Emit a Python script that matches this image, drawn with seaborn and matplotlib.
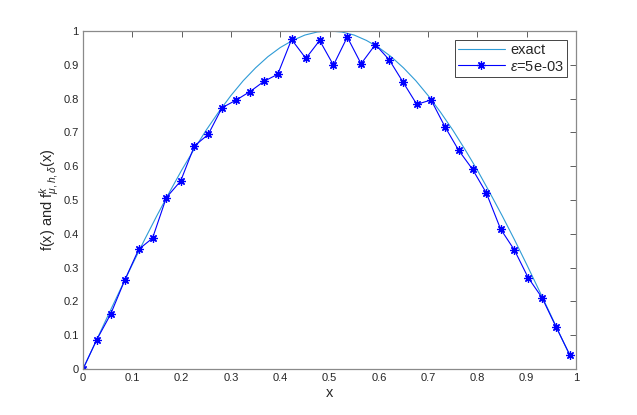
import numpy as np
import pandas as pd
import matplotlib
matplotlib.use("Agg")
import matplotlib.pyplot as plt
import seaborn as sns

# exact curve f(x), sampled
x_exact = [0.0, 0.025, 0.05, 0.075, 0.1, 0.125, 0.15, 0.175, 0.2, 0.225, 0.25,
           0.275, 0.3, 0.325, 0.35, 0.375, 0.4, 0.425, 0.45, 0.475, 0.5, 0.525,
           0.55, 0.575, 0.6, 0.625, 0.65, 0.675, 0.7, 0.725, 0.75, 0.775, 0.8,
           0.825, 0.85, 0.875, 0.9, 0.925, 0.95, 0.975, 0.988]
y_exact = [0.0, 0.078, 0.156, 0.233, 0.309, 0.383, 0.454, 0.522, 0.588, 0.649,
           0.707, 0.760, 0.809, 0.853, 0.891, 0.924, 0.951, 0.972, 0.988, 0.997,
           1.0, 0.997, 0.988, 0.972, 0.951, 0.924, 0.891, 0.853, 0.809, 0.760,
           0.707, 0.649, 0.588, 0.522, 0.454, 0.383, 0.309, 0.233, 0.156, 0.078,
           0.038]

# approximation, eps = 5e-03
x_approx = [0.0, 0.028, 0.056, 0.085, 0.113, 0.141, 0.169, 0.198, 0.226, 0.254,
            0.282, 0.311, 0.339, 0.367, 0.395, 0.423, 0.452, 0.480, 0.508, 0.536,
            0.564, 0.593, 0.621, 0.649, 0.677, 0.706, 0.734, 0.762, 0.790, 0.818,
            0.847, 0.875, 0.903, 0.931, 0.960, 0.988]
y_approx = [0.0, 0.087, 0.162, 0.264, 0.354, 0.387, 0.507, 0.556, 0.660, 0.694,
            0.773, 0.796, 0.821, 0.851, 0.872, 0.975, 0.919, 0.972, 0.899, 0.982,
            0.903, 0.960, 0.915, 0.849, 0.783, 0.796, 0.717, 0.647, 0.591, 0.521,
            0.414, 0.352, 0.270, 0.211, 0.123, 0.040]

df_exact = pd.DataFrame({"x": x_exact, "y": y_exact})
df_approx = pd.DataFrame({"x": x_approx, "y": y_approx})

sns.set_style("white")
plt.rcParams["font.family"] = ["Liberation Sans", "DejaVu Sans"]
plt.rcParams["mathtext.fontset"] = "custom"
plt.rcParams["mathtext.rm"] = "Liberation Sans"
plt.rcParams["mathtext.it"] = "Liberation Sans:italic"

fig = plt.figure(figsize=(6.37, 4.15), dpi=100)
ax = fig.add_axes([0.1303, 0.1108, 0.7740, 0.8145])

sns.lineplot(data=df_exact, x="x", y="y", ax=ax, color="#2E9BD6", linewidth=0.8,
             label="exact", sort=False)
sns.lineplot(data=df_approx, x="x", y="y", ax=ax, color="#0000FF", linewidth=0.8,
             marker=(8, 2, 0), markersize=6, markeredgewidth=0.9,
             markeredgecolor="#0000FF", label=r"$\epsilon$=5e-03", sort=False)

ax.set_xlim(0, 1)
ax.set_ylim(0, 1)
ticks = np.round(np.arange(0, 1.01, 0.1), 1)
labels = ["0" if t == 0 else ("1" if t == 1 else f"{t:g}") for t in ticks]
ax.set_xticks(ticks)
ax.set_xticklabels(labels)
ax.set_yticks(ticks)
ax.set_yticklabels(labels)
ax.tick_params(direction="in", length=4, width=0.6, color="#444444",
               labelsize=8, labelcolor="#262626", top=True, right=True,
               pad=3)
for s in ax.spines.values():
    s.set_color("#8a8a8a")
    s.set_linewidth(0.9)
    s.set_visible(True)

ax.set_xlabel("x", fontsize=10.5, color="#262626", labelpad=2)
ax.set_ylabel(r"f(x) and f$^{k}_{\mu,h,\delta}$(x)", fontsize=10.5,
              color="#262626", labelpad=2)

leg = ax.legend(loc="upper right", fontsize=10.5, frameon=True, fancybox=False,
                framealpha=1, edgecolor="#262626", borderpad=0.25,
                handlelength=3.2, handletextpad=0.35, labelspacing=0.15,
                borderaxespad=0.6)
leg.get_frame().set_linewidth(0.6)

fig.savefig("out.png", dpi=100)
